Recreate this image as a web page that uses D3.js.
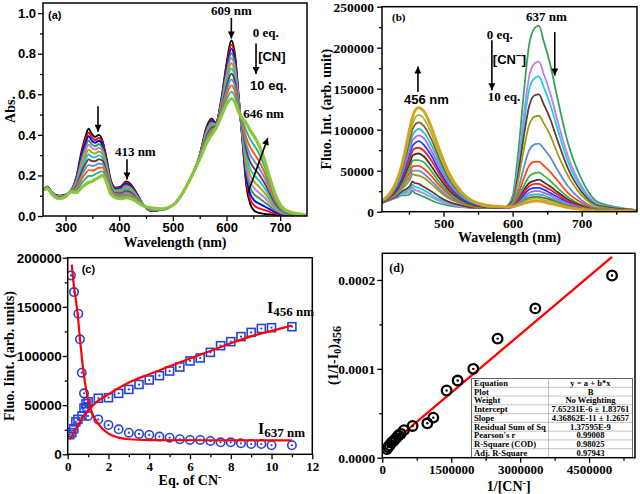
<!DOCTYPE html>
<html><head><meta charset="utf-8">
<script src="https://cdn.jsdelivr.net/npm/d3@7"></script>
<style>body{margin:0;background:#fff}svg{display:block;background:#fff}</style>
</head><body>
<svg id="chart" width="640" height="494"></svg>
<script>
// ---------------- DATA ----------------
// (a) UV-vis titration: wavelength grid (nm) and absorbance spectra, 0 eq. -> 10 eq.
const wlA = [260,266,275,288,300,310,320,330,337,343,349,355,362,369,376,384,393,403,413,422,433,445,460,480,505,530,550,563,572,580,590,600,609,616,623,630,637,644,652,661,671,681,691,702,716,750];
const absA00 = [.130,.145,.115,.100,.105,.125,.190,.320,.390,.430,.405,.390,.400,.370,.290,.180,.140,.145,.170,.155,.110,.055,.025,.030,.065,.170,.300,.440,.480,.460,.570,.750,.865,.790,.580,.360,.150,.060,.025,.015,.010,.008,.005,.003,.002,.000];
const absA01 = [.130,.144,.114,.099,.104,.125,.185,.307,.374,.411,.389,.375,.385,.358,.282,.175,.137,.141,.164,.150,.107,.055,.026,.030,.065,.170,.299,.434,.474,.458,.564,.736,.845,.774,.575,.368,.171,.085,.051,.038,.029,.020,.012,.006,.003,.000];
const absA02 = [.130,.144,.114,.098,.104,.124,.180,.295,.357,.393,.372,.361,.371,.346,.273,.170,.133,.137,.159,.145,.104,.054,.027,.031,.065,.170,.297,.429,.469,.456,.559,.722,.825,.758,.570,.377,.193,.111,.076,.061,.047,.033,.019,.009,.005,.001];
const absA03 = [.130,.143,.113,.097,.103,.124,.174,.280,.338,.372,.353,.344,.354,.333,.264,.165,.129,.132,.152,.140,.101,.054,.028,.031,.065,.170,.296,.422,.462,.453,.552,.706,.802,.739,.565,.386,.217,.140,.105,.088,.068,.047,.027,.013,.006,.001];
const absA04 = [.130,.142,.112,.096,.102,.124,.168,.266,.320,.351,.335,.327,.337,.319,.254,.159,.125,.127,.146,.134,.098,.054,.030,.032,.065,.170,.294,.416,.456,.451,.546,.690,.779,.721,.559,.396,.242,.169,.135,.114,.090,.061,.035,.017,.008,.002];
const absA05 = [.130,.141,.111,.094,.101,.123,.161,.250,.298,.327,.313,.308,.318,.304,.243,.153,.121,.122,.139,.128,.094,.053,.031,.032,.065,.170,.292,.409,.449,.448,.539,.672,.753,.700,.553,.407,.269,.202,.167,.144,.113,.077,.044,.021,.010,.002];
const absA06 = [.130,.140,.110,.093,.100,.123,.154,.234,.277,.303,.292,.289,.299,.288,.232,.146,.116,.116,.132,.121,.091,.053,.032,.032,.065,.170,.290,.402,.442,.446,.532,.654,.727,.680,.546,.418,.296,.234,.200,.173,.137,.093,.053,.025,.012,.002];
const absA07 = [.130,.139,.109,.091,.099,.122,.147,.217,.256,.279,.271,.270,.280,.273,.222,.140,.112,.111,.124,.115,.087,.052,.034,.033,.065,.170,.289,.394,.434,.443,.524,.636,.701,.659,.540,.428,.324,.267,.233,.203,.161,.109,.062,.029,.013,.003];
const absA08 = [.130,.138,.108,.090,.098,.122,.140,.199,.233,.252,.248,.249,.259,.256,.210,.133,.107,.105,.116,.108,.083,.052,.035,.033,.065,.170,.287,.386,.426,.440,.516,.616,.673,.636,.533,.440,.354,.303,.270,.236,.188,.127,.072,.033,.015,.003];
const absA09 = [.130,.137,.107,.088,.097,.121,.132,.181,.209,.226,.224,.228,.238,.239,.198,.126,.102,.099,.108,.101,.079,.051,.037,.034,.065,.170,.285,.378,.418,.437,.508,.596,.644,.613,.526,.452,.385,.340,.306,.269,.214,.144,.082,.038,.017,.004];
const absA10 = [.130,.136,.106,.087,.096,.121,.124,.162,.183,.197,.198,.205,.215,.220,.184,.118,.096,.092,.100,.093,.075,.051,.038,.034,.065,.170,.282,.370,.410,.434,.500,.574,.612,.588,.518,.466,.418,.379,.346,.305,.243,.164,.093,.043,.020,.004];
const absA11 = [.130,.135,.105,.085,.095,.120,.115,.140,.155,.165,.170,.180,.190,.200,.170,.110,.090,.085,.090,.085,.070,.050,.040,.035,.065,.170,.280,.360,.400,.430,.490,.550,.578,.560,.510,.480,.455,.423,.390,.345,.275,.185,.105,.048,.022,.005];
const absSeries = [absA00,absA01,absA02,absA03,absA04,absA05,absA06,absA07,absA08,absA09,absA10,absA11];
const colorsA = ['#000000','#ff0000','#0000ff','#2e9b4a','#b07fe8','#b3a000','#16c3d6','#6f3a3a','#5b93d8','#ff5a14','#2fae8c','#8cc63f'];

// (b) fluorescence titration: wavelength grid (nm) and intensities in units of 1000 arb. unit
const wlB = [412,422,432,440,447,452,455,458,464,472,482,494,508,525,545,570,590,600,608,616,624,632,638,645,654,665,680,700,725,780];
const flB00 = [11,14,17,20,20,22,26,23,21,18,14,10,7.5,5.5,4.5,4.5,6,19,71,143,204,224,227,208,181,138,84,39,11,2];
const flB01 = [11,14,18,22,23,25,30,27,25,22,18,13,9,6,5,5,6,16,57,116,165,181,183,168,146,111,68,31,9,2];
const flB02 = [11,15,19,23,25,29,33,31,29,26,21,15,11,7,5,5,6,14,52,104,149,163,165,152,132,101,61,28,8,2];
const flB03 = [11,15,19,25,28,32,37,35,34,30,25,18,12,8,5,5,6,13,45,91,129,142,143,131,114,87,53,24,7,2];
const flB04 = [12,16,21,28,34,40,46,45,44,41,34,25,16,10,6,5,5,11,38,75,106,116,117,108,94,71,44,20,6,1];
const flB05 = [12,16,22,30,38,44,50,50,50,46,38,28,18,11,7,5,5,9,27,53,75,82,83,77,67,51,31,14,4,1];
const flB06 = [12,17,24,33,42,49,55,56,56,52,44,32,21,12,7,5,5,7,21,40,56,61,61,56,49,38,23,11,3,1];
const flB07 = [12,17,25,35,46,55,62,63,63,60,50,36,23,13,8,5,5,6,17,31,43,47,48,44,38,29,18,8,3,1];
const flB08 = [12,18,26,38,51,61,68,70,71,67,56,41,26,15,8,5,5,6,14,26,35,38,39,36,31,24,15,7,2,1];
const flB09 = [13,18,28,41,55,67,74,77,78,74,63,46,29,16,9,6,5,6,13,23,31,34,34,31,27,21,13,6,2,1];
const flB10 = [13,19,29,43,60,73,80,83,86,81,69,50,32,17,9,6,5,6,11,20,27,29,29,27,23,18,11,5,2,1];
const flB11 = [13,19,31,46,64,78,87,90,93,89,75,55,34,19,10,6,5,6,10,17,23,25,25,23,20,15,10,5,2,1];
const flB12 = [13,20,32,49,69,84,93,97,101,96,82,60,37,20,10,6,6,6,10,15,20,21,21,20,17,13,8,4,2,1];
const flB13 = [14,21,34,52,74,91,100,105,109,104,89,65,40,22,11,6,6,6,9,13,17,18,18,17,15,11,7,4,2,1];
const flB14 = [14,21,35,55,79,98,107,113,118,113,96,70,43,23,11,6,6,6,8,12,15,16,16,14,13,10,6,3,1,1];
const flB15 = [14,22,37,58,85,105,115,122,127,122,104,76,47,25,12,7,6,6,8,10,12,13,13,12,10,8,5,3,1,1];
const flSeries = [flB00,flB01,flB02,flB03,flB04,flB05,flB06,flB07,flB08,flB09,flB10,flB11,flB12,flB13,flB14,flB15];
const colorsB = ['#34a35a','#c07ce8','#1fd0e4','#6e3535','#9e9a12','#5b8fd0','#ff4514','#3cb043','#383838','#ff1a1a','#1a3cff','#a86ae0','#20bcd0','#8b5a2b','#8ac43f','#d6a21e'];

// (c) intensity vs equivalents of CN-
const eqI456 = [0.1,0.2,0.3,0.4,0.5,0.7,0.8,0.9,1.0,1.5,2,2.5,3,3.5,4,4.5,5,5.5,6,6.5,7,7.5,8,8.5,9,9.5,10,11];
const valI456 = [20000,22000,26000,33000,35500,39000,47000,51500,53500,57000,57600,62000,66000,71000,75600,80000,84700,88800,95000,98000,103700,110500,114600,119700,124000,128000,128800,129800];
const eqI637 = [0.16,0.31,0.52,0.6,0.69,0.8,0.9,1.0,1.5,2,2.5,3,3.5,4,4.5,5,5.5,6,6.5,7,7.5,8,8.5,9,9.5,10,11];
const valI637 = [182000,165000,143000,117000,83000,62000,48000,39000,35500,29800,25400,22000,20700,19700,18000,16900,15300,14600,14600,13600,12200,12200,11200,10500,10500,9200,9200];
const fitEq456 = [0.1,0.3,0.6,1.0,1.4,2,3,4,5,6,7,8,9,10,11];
const fitVal456 = [15000,22000,33000,44000,53000,61000,73000,81500,89500,97500,105000,113000,120000,125500,131000];
const fitEq637 = [0.2,0.3,0.4,0.5,0.6,0.7,0.8,0.9,1.0,1.2,1.5,2,2.5,3,4,6,11];
const fitVal637 = [193000,172000,157000,140000,118000,97000,80000,66000,56000,42000,31000,21000,17000,15300,14500,14300,14200];

// (d) Benesi-Hildebrand plot
const invCN = [100000,130000,160000,200000,250000,300000,350000,400000,470000,660000,980000,1110000,1400000,1640000,1980000,2510000,3330000,5000000];
const invDI = [0.0000098,0.000012,0.000014,0.000017,0.000019,0.000022,0.000025,0.000027,0.000031,0.0000357,0.0000387,0.0000451,0.0000756,0.0000868,0.0001,0.000134,0.000168,0.000205];
const fitX_d = [100000,5000000];
const fitY_d = [0.000012,0.000226];
const tableLabels = ['Equation','Plot','Weight','Intercept','Slope','Residual Sum of Sq',"Pearson's r",'R-Square (COD)','Adj. R-Square'];
const tableValues = ['y = a + b*x','B','No Weighting','7.65231E-6 \u00b1 1.83761','4.36862E-11 \u00b1 1.2657','1.37595E-9','0.99008','0.98025','0.97943'];

// tick values
const aXTicks=[300,400,500,600,700], aXMinor=[350,450,550,650];
const aYTicks=[0,0.2,0.4,0.6,0.8,1.0], aYMinor=[0.1,0.3,0.5,0.7,0.9];
const bXTicks=[500,600,700], bXMinor=[450,550,650,750];
const bYTicks=[0,50000,100000,150000,200000,250000], bYMinor=[25000,75000,125000,175000,225000];
const cXTicks=[0,2,4,6,8,10,12], cXMinor=[1,3,5,7,9,11];
const cYTicks=[0,50000,100000,150000,200000], cYMinor=[25000,75000,125000,175000];
const dXTicks=[0,1500000,3000000,4500000], dXMinor=[750000,2250000,3750000,5250000];
const dYTicks=[0,0.0001,0.0002], dYMinor=[0.00005,0.00015];

// ---------------- DRAWING ----------------
const SANS='"Liberation Sans", Arial, Helvetica, sans-serif';
const SERIF='"Liberation Serif", "Times New Roman", Times, serif';
const svg=d3.select('#chart');
const defs=svg.append('defs');
defs.append('marker').attr('id','ah').attr('viewBox','0 0 10 10').attr('refX',10).attr('refY',5)
  .attr('markerUnits','userSpaceOnUse').attr('markerWidth',9).attr('markerHeight',7).attr('orient','auto')
  .append('path').attr('d','M0,0L10,5L0,10Z').attr('fill','#000');

function clipFor(id,x,y){
  defs.append('clipPath').attr('id',id).append('rect')
    .attr('x',x.range()[0]).attr('y',y.range()[1])
    .attr('width',x.range()[1]-x.range()[0]).attr('height',y.range()[0]-y.range()[1]);
  return `url(#${id})`;
}
function frame(g,x,y){
  g.append('rect').attr('x',x.range()[0]).attr('y',y.range()[1])
    .attr('width',x.range()[1]-x.range()[0]).attr('height',y.range()[0]-y.range()[1])
    .attr('fill','none').attr('stroke','#000').attr('stroke-width',1.5);
}
function axes(g,x,y,c){
  const yb=y.range()[0], xl=x.range()[0];
  const mk=(axis,tr,vals,size,pad,fmt,font,fs)=>{
    const a=g.append('g').attr('transform',tr)
      .call(axis.tickValues(vals).tickSize(size).tickPadding(pad).tickFormat(fmt||(()=>'')));
    a.select('.domain').remove();
    a.selectAll('line').attr('stroke','#000').attr('stroke-width',1.3);
    a.selectAll('text').attr('font-family',font).attr('font-weight','bold').attr('font-size',fs).attr('fill','#000');
  };
  mk(d3.axisBottom(x),`translate(0,${yb})`,c.xMinor,3,0,null,c.xFont,c.xSize);
  mk(d3.axisBottom(x),`translate(0,${yb})`,c.xTicks,5,c.xPad,c.xFmt,c.xFont,c.xSize);
  mk(d3.axisLeft(y),`translate(${xl},0)`,c.yMinor,3,0,null,c.yFont,c.ySize);
  mk(d3.axisLeft(y),`translate(${xl},0)`,c.yTicks,5,c.yPad,c.yFmt,c.yFont,c.ySize);
}
function txt(g,x,y,s,font,size,anchor){
  return g.append('text').attr('x',x).attr('y',y).attr('font-family',font).attr('font-weight','bold')
    .attr('font-size',size).attr('text-anchor',anchor||'start').attr('fill','#000').text(s);
}
function vtxt(g,cx,cy,font,size){
  return g.append('text').attr('transform',`translate(${cx},${cy}) rotate(-90)`).attr('text-anchor','middle')
    .attr('font-family',font).attr('font-weight','bold').attr('font-size',size).attr('fill','#000');
}
function arrow(g,x1,y1,x2,y2){
  g.append('line').attr('x1',x1).attr('y1',y1).attr('x2',x2).attr('y2',y2)
    .attr('stroke','#000').attr('stroke-width',1.6).attr('marker-end','url(#ah)');
}

// ===== Panel (a) =====
const xA=d3.scaleLinear().domain([258,750]).range([43,307]);
const yA=d3.scaleLinear().domain([0,1.05]).range([216,3]);
const gA=svg.append('g');
const lineA=d3.line().x((d,i)=>xA(wlA[i])).y(d=>yA(d)).curve(d3.curveMonotoneX);
gA.append('g').attr('clip-path',clipFor('clipA',xA,yA)).selectAll('path').data(absSeries).join('path')
  .attr('d',lineA).attr('fill','none').attr('stroke',(d,i)=>colorsA[i])
  .attr('stroke-width',(d,i)=>i===absSeries.length-1?3.2:1.9).attr('stroke-linejoin','round');
axes(gA,xA,yA,{xTicks:aXTicks,xMinor:aXMinor,xFmt:d3.format('d'),xPad:2,xFont:SANS,xSize:13,
  yTicks:aYTicks,yMinor:aYMinor,yFmt:d3.format('.1f'),yPad:2,yFont:SANS,ySize:13});
frame(gA,xA,yA);
txt(gA,xA.range()[0]+5,yA.range()[1]+16,'(a)',SANS,11);
txt(gA,xA(609),yA(0.99),'609 nm',SERIF,13,'middle');
arrow(gA,xA(609),yA(0.977),xA(609),yA(0.875));
txt(gA,xA(649),yA(0.88),'0 eq.',SERIF,13);
arrow(gA,xA(655),yA(0.85),xA(655),yA(0.70));
txt(gA,xA(659),yA(0.762),'[CN]',SANS,13);
txt(gA,xA(644),yA(0.62),'10 eq.',SANS,13);
txt(gA,xA(631),yA(0.482),'646 nm',SERIF,13);
arrow(gA,xA(640),yA(0.115),xA(677),yA(0.385));
arrow(gA,xA(360.5),yA(0.541),xA(360.5),yA(0.415));
txt(gA,xA(430),yA(0.295),'413 nm',SERIF,13,'middle');
arrow(gA,xA(414.5),yA(0.28),xA(414.5),yA(0.18));
txt(gA,(xA.range()[0]+xA.range()[1])/2,246.5,'Wavelength (nm)',SERIF,14,'middle');
vtxt(gA,14.5,(yA.range()[0]+yA.range()[1])/2,SERIF,14).text('Abs.');

// ===== Panel (b) =====
const xB=d3.scaleLinear().domain([411,780]).range([382,637]);
const yB=d3.scaleLinear().domain([0,250000]).range([211.7,6.7]);
const gB=svg.append('g');
const lineB=d3.line().x((d,i)=>xB(wlB[i])).y(d=>yB(d*1000)).curve(d3.curveMonotoneX);
gB.append('g').attr('clip-path',clipFor('clipB',xB,yB)).selectAll('path').data(flSeries).join('path')
  .attr('d',lineB).attr('fill','none').attr('stroke',(d,i)=>colorsB[i])
  .attr('stroke-width',(d,i)=>i===flSeries.length-1?2.8:1.8).attr('stroke-linejoin','round');
axes(gB,xB,yB,{xTicks:bXTicks,xMinor:bXMinor,xFmt:d3.format('d'),xPad:2,xFont:SERIF,xSize:13.5,
  yTicks:bYTicks,yMinor:bYMinor,yFmt:d3.format('d'),yPad:3,yFont:SERIF,ySize:13.5});
frame(gB,xB,yB);
txt(gB,xB.range()[0]+10,yB.range()[1]+14,'(b)',SERIF,11);
txt(gB,xB(649),yB(232600),'637 nm',SERIF,13,'middle');
arrow(gB,xB(661),yB(219000),xB(661),yB(166000));
txt(gB,xB(562.7),yB(210600),'0 eq.',SERIF,13);
arrow(gB,xB(570),yB(209000),xB(570),yB(148000));
const cnB=txt(gB,xB(571.4),yB(180000),'[CN',SANS,13);
cnB.append('tspan').attr('dy',-5).attr('font-size',10).text('\u2212');
cnB.append('tspan').attr('dy',5).text(']');
txt(gB,xB(564),yB(135000),'10 eq.',SERIF,13);
arrow(gB,xB(463),yB(146000),xB(463),yB(177000));
txt(gB,xB(475.3),yB(131000),'456 nm',SANS,13,'middle');
txt(gB,(xB.range()[0]+xB.range()[1])/2,242,'Wavelength (nm)',SERIF,14,'middle');
vtxt(gB,331,(yB.range()[0]+yB.range()[1])/2,SERIF,14).text('Fluo. Int. (arb. unit)');

// ===== Panel (c) =====
const xC=d3.scaleLinear().domain([0,12]).range([67.7,312.3]);
const yC=d3.scaleLinear().domain([0,200000]).range([454.3,257.7]);
const gC=svg.append('g');
const blue='#2244dd';
const gCd=gC.append('g').attr('clip-path',clipFor('clipC',xC,yC));
const pts456=eqI456.map((e,i)=>[e,valI456[i]]);
const pts637=eqI637.map((e,i)=>[e,valI637[i]]);
gCd.selectAll('rect.sq').data(pts456).join('rect').attr('class','sq')
  .attr('x',d=>xC(d[0])-4).attr('y',d=>yC(d[1])-4).attr('width',8).attr('height',8)
  .attr('fill','none').attr('stroke',blue).attr('stroke-width',1.6);
gCd.selectAll('circle.ci').data(pts637).join('circle').attr('class','ci')
  .attr('cx',d=>xC(d[0])).attr('cy',d=>yC(d[1])).attr('r',4.2)
  .attr('fill','none').attr('stroke',blue).attr('stroke-width',1.6);
gCd.selectAll('circle.dt').data(pts456.concat(pts637)).join('circle').attr('class','dt')
  .attr('cx',d=>xC(d[0])).attr('cy',d=>yC(d[1])).attr('r',1.1).attr('fill',blue);
const lineC=d3.line().x(d=>xC(d[0])).y(d=>yC(d[1])).curve(d3.curveMonotoneX);
gCd.append('path').attr('d',lineC(fitEq456.map((e,i)=>[e,fitVal456[i]]))).attr('fill','none').attr('stroke','#ff0000').attr('stroke-width',2.2);
gCd.append('path').attr('d',lineC(fitEq637.map((e,i)=>[e,fitVal637[i]]))).attr('fill','none').attr('stroke','#ff0000').attr('stroke-width',2.2);
axes(gC,xC,yC,{xTicks:cXTicks,xMinor:cXMinor,xFmt:d3.format('d'),xPad:2,xFont:SERIF,xSize:13,
  yTicks:cYTicks,yMinor:cYMinor,yFmt:d3.format('d'),yPad:1,yFont:SANS,ySize:13.5});
frame(gC,xC,yC);
txt(gC,xC.range()[0]+14,yC.range()[1]+15,'(c)',SANS,11);
const l456=txt(gC,xC(9.78),yC(143700),'I',SERIF,16);
l456.append('tspan').attr('dy',3).attr('font-size',13).text('456 nm');
const l637=txt(gC,xC(9.34),yC(20600),'I',SERIF,16);
l637.append('tspan').attr('dy',3).attr('font-size',13).text('637 nm');
const eqT=txt(gC,(xC.range()[0]+xC.range()[1])/2,485,'Eq. of CN',SERIF,14,'middle');
eqT.append('tspan').attr('dy',-5).attr('font-size',10).text('-');
vtxt(gC,13.5,(yC.range()[0]+yC.range()[1])/2,SERIF,14).text('Fluo. Iint. (arb. units)');

// ===== Panel (d) =====
const xD=d3.scaleLinear().domain([0,5500000]).range([382.3,635]);
const yD=d3.scaleLinear().domain([0,0.00023]).range([457.7,253.3]);
const gD=svg.append('g');
const gDd=gD.append('g').attr('clip-path',clipFor('clipD',xD,yD));
gDd.append('path').attr('d',d3.line().x(d=>xD(d[0])).y(d=>yD(d[1]))(fitX_d.map((v,i)=>[v,fitY_d[i]])))
  .attr('stroke','#ff0000').attr('stroke-width',2.3).attr('fill','none');
const ptsD=invCN.map((v,i)=>[v,invDI[i]]);
gDd.selectAll('circle.o').data(ptsD).join('circle').attr('class','o')
  .attr('cx',d=>xD(d[0])).attr('cy',d=>yD(d[1])).attr('r',4.8)
  .attr('fill','none').attr('stroke','#000').attr('stroke-width',2.3);
gDd.selectAll('circle.p').data(ptsD).join('circle').attr('class','p')
  .attr('cx',d=>xD(d[0])).attr('cy',d=>yD(d[1])).attr('r',1.2).attr('fill','#000');
// fit table
const tL=471.5, tR=632.5, tT=378.5, tB=457.5, tS=548.5, rh=(tB-tT)/tableLabels.length;
const gT=gD.append('g');
gT.append('rect').attr('x',tL).attr('y',tT).attr('width',tR-tL).attr('height',tB-tT).attr('fill','#fff').attr('stroke','#666').attr('stroke-width',1);
gT.selectAll('line.r').data(tableLabels.slice(1)).join('line').attr('class','r')
  .attr('x1',tL).attr('x2',tR).attr('y1',(d,i)=>tT+rh*(i+1)).attr('y2',(d,i)=>tT+rh*(i+1)).attr('stroke','#aaa').attr('stroke-width',0.7);
gT.append('line').attr('x1',tS).attr('x2',tS).attr('y1',tT).attr('y2',tB).attr('stroke','#aaa').attr('stroke-width',0.7);
gT.selectAll('text.l').data(tableLabels).join('text').attr('class','l')
  .attr('x',tL+2.5).attr('y',(d,i)=>tT+rh*i+7.3).attr('font-family',SERIF).attr('font-weight','bold').attr('font-size',8.6).text(d=>d);
gT.selectAll('text.v').data(tableValues).join('text').attr('class','v')
  .attr('x',(tS+tR)/2).attr('y',(d,i)=>tT+rh*i+7.3).attr('text-anchor','middle').attr('font-family',SERIF).attr('font-weight','bold').attr('font-size',8.6).text(d=>d);
axes(gD,xD,yD,{xTicks:dXTicks,xMinor:dXMinor,xFmt:d3.format('d'),xPad:2,xFont:SERIF,xSize:13,
  yTicks:dYTicks,yMinor:dYMinor,yFmt:d3.format('.4f'),yPad:2,yFont:SERIF,ySize:13.5});
frame(gD,xD,yD);
txt(gD,xD.range()[0]+7,yD.range()[1]+19,'(d)',SERIF,12);
const xtD=txt(gD,(xD.range()[0]+xD.range()[1])/2,491,'1/[CN',SERIF,14,'middle');
xtD.append('tspan').attr('dy',-5).attr('font-size',10).text('-');
xtD.append('tspan').attr('dy',5).text(']');
const ytD=vtxt(gD,338,(yD.range()[0]+yD.range()[1])/2,SERIF,14);
ytD.append('tspan').text('(1/I-I');
ytD.append('tspan').attr('dy',3).attr('font-size',10).text('0');
ytD.append('tspan').attr('dy',-3).text(')');
ytD.append('tspan').attr('dy',3).attr('font-size',12).text('456');
</script>
</body></html>
